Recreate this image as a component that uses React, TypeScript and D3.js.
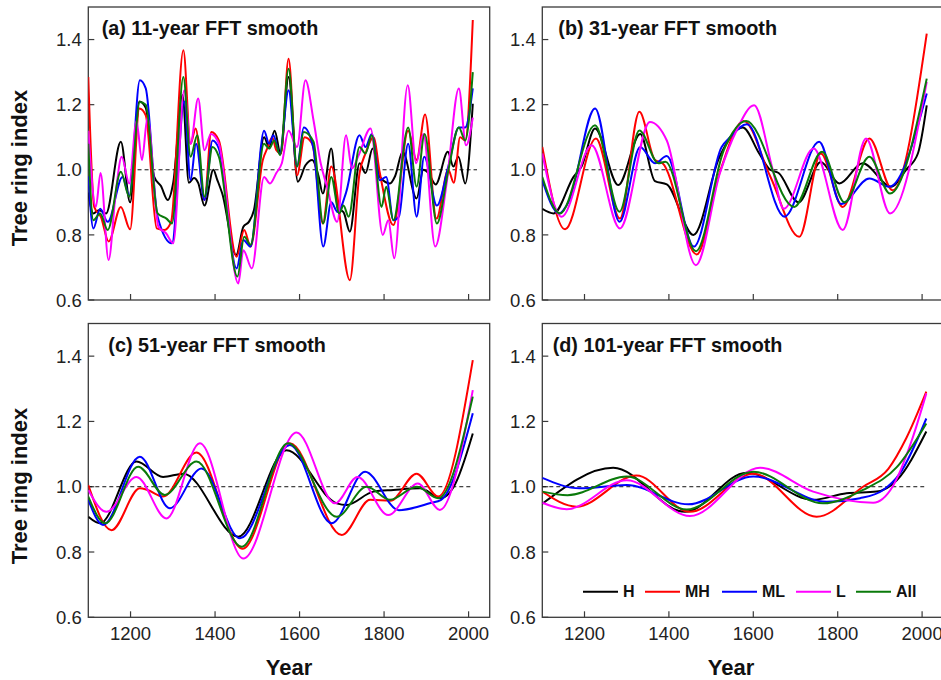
import React from 'react';
import * as d3 from 'd3';

type Pt = [number, number];

// ---------- Panel (a) 11-year FFT smooth ----------
const aH: Pt[] = [[1100,0.93],[1112,0.866],[1125,0.876],[1142,0.866],[1177,1.086],[1199,0.90],[1221,1.21],[1236,1.19],[1256,0.978],[1272,0.95],[1288,0.907],[1301,0.96],[1323,1.23],[1338,0.96],[1350,0.975],[1360,0.96],[1375,0.89],[1396,1.0],[1405,0.97],[1417,0.927],[1450,0.738],[1467,0.825],[1480,0.84],[1492,0.876],[1516,1.10],[1528,1.07],[1541,1.12],[1555,1.05],[1574,1.285],[1596,0.963],[1614,1.014],[1630,1.03],[1645,0.98],[1655,0.927],[1675,1.065],[1691,0.88],[1704,0.87],[1719,0.81],[1742,1.02],[1756,0.99],[1773,1.065],[1790,0.978],[1814,0.958],[1826,0.98],[1844,1.055],[1877,0.912],[1893,1.0],[1905,0.99],[1922,0.955],[1951,1.055],[1964,1.01],[1976,1.04],[1992,0.958],[2010,1.203]];
const aMH: Pt[] = [[1100,1.285],[1114,0.886],[1130,0.855],[1148,0.78],[1177,0.886],[1199,0.817],[1221,1.188],[1236,1.167],[1262,0.82],[1280,0.815],[1296,0.84],[1325,1.367],[1342,1.08],[1354,1.127],[1375,0.907],[1391,1.116],[1409,1.09],[1451,0.733],[1469,0.815],[1484,0.764],[1513,1.03],[1525,1.07],[1535,1.10],[1545,1.06],[1556,1.05],[1574,1.341],[1594,0.983],[1612,1.10],[1630,1.08],[1655,0.835],[1675,1.01],[1719,0.661],[1742,0.99],[1756,1.05],[1775,1.10],[1790,0.99],[1822,0.83],[1857,1.12],[1877,1.03],[1897,1.17],[1924,0.85],[1952,1.0],[1965,0.96],[1980,1.1],[1992,1.09],[2010,1.46]];
const aML: Pt[] = [[1100,0.98],[1112,0.82],[1128,0.88],[1146,0.84],[1181,0.978],[1197,0.92],[1222,1.275],[1236,1.25],[1264,0.856],[1298,0.774],[1327,1.21],[1342,0.968],[1355,1.08],[1375,0.907],[1394,1.09],[1409,1.065],[1451,0.697],[1467,0.784],[1484,0.764],[1516,1.12],[1528,1.08],[1538,1.106],[1553,1.05],[1574,1.244],[1594,1.01],[1610,1.13],[1633,1.065],[1656,0.764],[1675,0.90],[1690,0.87],[1710,0.93],[1742,1.106],[1756,1.07],[1771,1.11],[1790,0.968],[1805,0.978],[1822,0.845],[1835,0.856],[1857,1.08],[1877,0.856],[1895,1.04],[1925,0.89],[1952,1.01],[1977,1.13],[1992,1.13],[2010,1.25]];
const aL: Pt[] = [[1100,1.12],[1118,0.886],[1129,0.99],[1148,0.723],[1165,0.93],[1179,1.04],[1197,0.958],[1214,1.15],[1227,1.03],[1240,1.16],[1266,0.825],[1284,0.805],[1301,0.774],[1327,1.244],[1342,1.08],[1360,1.219],[1375,1.06],[1390,1.11],[1409,1.08],[1455,0.651],[1467,0.753],[1487,0.697],[1516,0.978],[1530,0.958],[1545,0.99],[1558,1.02],[1574,1.12],[1594,1.07],[1614,1.275],[1633,1.152],[1650,1.02],[1665,0.948],[1689,0.84],[1710,1.106],[1724,1.004],[1740,1.045],[1768,1.127],[1797,0.80],[1810,0.845],[1824,0.728],[1856,1.26],[1876,1.02],[1893,1.11],[1921,0.764],[1948,0.958],[1977,1.25],[1994,1.075],[2010,1.16]];
const aAll: Pt[] = [[1100,1.08],[1112,0.845],[1128,0.866],[1146,0.815],[1177,0.994],[1197,0.917],[1222,1.208],[1236,1.20],[1264,0.866],[1285,0.85],[1298,0.835],[1325,1.285],[1342,1.04],[1358,1.106],[1375,0.917],[1394,1.07],[1409,1.04],[1453,0.672],[1469,0.794],[1484,0.77],[1516,1.08],[1528,1.065],[1540,1.09],[1554,1.045],[1574,1.31],[1594,1.01],[1610,1.116],[1633,1.086],[1656,0.835],[1675,0.978],[1694,0.866],[1704,0.89],[1716,0.856],[1742,1.07],[1756,1.05],[1771,1.106],[1794,0.886],[1805,0.948],[1822,0.845],[1857,1.13],[1877,0.948],[1896,1.11],[1925,0.835],[1952,0.998],[1977,1.13],[1992,1.09],[2010,1.30]];

// ---------- Panel (b) 31-year FFT smooth ----------
const bH: Pt[] = [[1100,0.88],[1127,0.866],[1174,0.978],[1193,1.01],[1225,1.127],[1280,0.953],[1332,1.11],[1367,0.965],[1395,0.955],[1458,0.80],[1520,1.04],[1575,1.13],[1614,1.05],[1640,1.0],[1660,0.99],[1707,0.90],[1760,1.024],[1804,0.958],[1859,1.02],[1926,0.948],[1962,1.0],[1990,1.05],[2011,1.198]];
const bMH: Pt[] = [[1100,1.07],[1154,0.817],[1227,1.096],[1284,0.85],[1330,1.178],[1367,1.03],[1385,1.02],[1466,0.74],[1520,0.99],[1577,1.15],[1640,0.98],[1709,0.794],[1760,1.05],[1812,0.886],[1875,1.096],[1930,0.937],[2011,1.418]];
const bML: Pt[] = [[1100,0.968],[1140,0.866],[1162,0.90],[1225,1.188],[1283,0.84],[1332,1.07],[1367,1.02],[1395,1.042],[1459,0.764],[1525,1.07],[1545,1.10],[1585,1.14],[1674,0.856],[1756,1.086],[1808,0.895],[1875,0.973],[1922,0.948],[2011,1.234]];
const bL: Pt[] = [[1100,1.05],[1146,0.856],[1217,1.075],[1284,0.82],[1355,1.147],[1395,1.09],[1464,0.707],[1521,0.99],[1560,1.12],[1602,1.198],[1646,1.0],[1672,0.88],[1743,1.065],[1812,0.815],[1867,1.096],[1924,0.866],[2011,1.27]];
const bAll: Pt[] = [[1100,0.978],[1142,0.866],[1225,1.137],[1283,0.871],[1330,1.121],[1375,1.02],[1392,1.025],[1464,0.75],[1530,1.06],[1583,1.15],[1697,0.886],[1763,1.055],[1816,0.90],[1875,1.04],[1924,0.927],[2011,1.28]];

// ---------- Panel (c) 51-year FFT smooth ----------
const cH: Pt[] = [[1100,0.908],[1128,0.888],[1214,1.077],[1277,1.03],[1325,1.04],[1455,0.847],[1569,1.112],[1688,0.949],[1711,0.944],[1775,0.985],[1822,0.99],[1885,0.995],[1935,0.965],[1965,1.0],[2010,1.163]];
const cMH: Pt[] = [[1100,1.005],[1155,0.867],[1222,0.995],[1240,0.99],[1277,0.97],[1356,1.105],[1465,0.81],[1577,1.133],[1700,0.852],[1767,0.96],[1815,0.957],[1877,1.04],[1928,0.97],[2010,1.388]];
const cML: Pt[] = [[1100,0.96],[1135,0.883],[1222,1.092],[1293,0.934],[1368,1.056],[1459,0.842],[1577,1.128],[1676,0.888],[1755,1.046],[1835,0.928],[1910,0.95],[1935,0.96],[2010,1.225]];
const cL: Pt[] = [[1100,0.99],[1143,0.923],[1214,1.03],[1285,0.903],[1364,1.133],[1467,0.78],[1593,1.166],[1684,0.949],[1737,1.03],[1810,0.913],[1880,1.01],[1932,0.929],[2010,1.296]];
const cAll: Pt[] = [[1100,0.97],[1140,0.888],[1218,1.061],[1281,0.975],[1356,1.077],[1463,0.816],[1573,1.133],[1688,0.908],[1759,1.0],[1814,0.96],[1877,1.0],[1928,0.965],[2010,1.276]];

// ---------- Panel (d) 101-year FFT smooth ----------
const dH: Pt[] = [[1100,0.948],[1268,1.058],[1438,0.923],[1584,1.043],[1742,0.96],[1821,0.98],[1892,0.985],[1940,1.02],[2010,1.169]];
const dMH: Pt[] = [[1100,0.985],[1181,0.939],[1323,1.034],[1450,0.923],[1600,1.04],[1750,0.908],[1860,1.0],[1920,1.055],[1963,1.15],[2010,1.291]];
const dML: Pt[] = [[1100,1.027],[1189,0.995],[1300,1.005],[1446,0.946],[1600,1.031],[1774,0.954],[1853,0.965],[1908,0.99],[1947,1.04],[2010,1.209]];
const dL: Pt[] = [[1100,0.951],[1158,0.931],[1300,1.02],[1450,0.91],[1616,1.058],[1742,0.985],[1884,0.951],[1930,1.0],[1975,1.14],[2010,1.286]];
const dAll: Pt[] = [[1100,0.985],[1160,0.974],[1300,1.031],[1442,0.93],[1600,1.046],[1765,0.949],[1860,0.99],[1940,1.06],[2010,1.194]];

const seriesNames = ['H', 'MH', 'ML', 'L', 'All'];
const seriesColors = ['#000000', '#ff0000', '#0000ff', '#ff00ff', '#0a7a0a'];
const panelTitles = ['(a) 11-year FFT smooth', '(b) 31-year FFT smooth', '(c) 51-year FFT smooth', '(d) 101-year FFT smooth'];
const panelData = [
  [aH, aMH, aML, aL, aAll],
  [bH, bMH, bML, bL, bAll],
  [cH, cMH, cML, cL, cAll],
  [dH, dMH, dML, dL, dAll],
];
const yTicks = [0.6, 0.8, 1.0, 1.2, 1.4];
const xTicks = [1200, 1400, 1600, 1800, 2000];
const refLine = [[1200, 2020], [1200, 2007], [1100, 2010], [1100, 2005]];

const FONT = 'Liberation Sans, Arial, Helvetica, sans-serif';

const layout = [
  { x0: 88.3, x1: 489.7, y0: 7, y1: 300, tx: 101.7, ty: 35, xLabels: false, yTitle: true, yTitleY: 168, legend: false, yearX: 289 },
  { x0: 542.3, x1: 943.2, y0: 7, y1: 300, tx: 558.3, ty: 35, xLabels: false, yTitle: false, yTitleY: 0, legend: false, yearX: 0 },
  { x0: 88.3, x1: 489.7, y0: 323.5, y1: 617.3, tx: 108.3, ty: 352, xLabels: true, yTitle: true, yTitleY: 486, legend: false, yearX: 289 },
  { x0: 542.3, x1: 943.2, y0: 323.5, y1: 617.3, tx: 552.7, ty: 352, xLabels: true, yTitle: false, yTitleY: 0, legend: true, yearX: 731 },
];

const legendLayout = [583, 645, 722, 796, 856];

function Panel({ idx }: { idx: number }) {
  const L = layout[idx];
  const x = d3.scaleLinear().domain([1100, 2050]).range([L.x0, L.x1]);
  const y = d3.scaleLinear().domain([0.6, 1.5]).range([L.y1, L.y0]);
  const line = d3.line<Pt>().x(d => x(d[0])).y(d => y(d[1])).curve(d3.curveMonotoneX);
  const clipId = `clip-${idx}`;
  const axisColor = '#3a3a3a';
  return (
    <g>
      <defs>
        <clipPath id={clipId}>
          <rect x={L.x0} y={L.y0} width={L.x1 - L.x0} height={L.y1 - L.y0} />
        </clipPath>
      </defs>
      <rect x={L.x0} y={L.y0} width={L.x1 - L.x0} height={L.y1 - L.y0} fill="none" stroke={axisColor} strokeWidth={1.3} />
      {yTicks.map(t => (
        <g key={'y' + t}>
          <line x1={L.x0} x2={L.x0 + 6} y1={y(t)} y2={y(t)} stroke={axisColor} strokeWidth={1.2} />
          <text x={L.x0 - 6.5} y={y(t)} dy="0.36em" textAnchor="end" fontFamily={FONT} fontSize={18.5} fill="#222">{t.toFixed(1)}</text>
        </g>
      ))}
      {xTicks.map(t => (
        <g key={'x' + t}>
          <line x1={x(t)} x2={x(t)} y1={L.y1} y2={L.y1 - 6} stroke={axisColor} strokeWidth={1.2} />
          {L.xLabels && (
            <text x={x(t)} y={L.y1 + 22.7} textAnchor="middle" fontFamily={FONT} fontSize={18.5} fill="#222">{t}</text>
          )}
        </g>
      ))}
      <line x1={x(refLine[idx][0])} x2={x(refLine[idx][1])} y1={y(1)} y2={y(1)} stroke="#111" strokeWidth={1} strokeDasharray="4,3" />
      <g clipPath={`url(#${clipId})`}>
        {panelData[idx].map((s, i) => (
          <path key={i} d={line(s) || ''} fill="none" stroke={seriesColors[i]} strokeWidth={2} strokeLinejoin="round" />
        ))}
      </g>
      <text x={L.tx} y={L.ty} fontFamily={FONT} fontWeight="bold" fontSize={19.8} fill="#111">{panelTitles[idx]}</text>
      {L.yTitle && (
        <text transform={`translate(27,${L.yTitleY}) rotate(-90)`} textAnchor="middle" fontFamily={FONT} fontWeight="bold" fontSize={22} fill="#111">Tree ring index</text>
      )}
      {L.xLabels && (
        <text x={L.yearX} y={675} textAnchor="middle" fontFamily={FONT} fontWeight="bold" fontSize={22} fill="#111">Year</text>
      )}
      {L.legend && seriesNames.map((n, i) => (
        <g key={n}>
          <line x1={legendLayout[i]} x2={legendLayout[i] + 35} y1={591.7} y2={591.7} stroke={seriesColors[i]} strokeWidth={2} />
          <text x={legendLayout[i] + 40} y={591.7} dy="0.36em" fontFamily={FONT} fontWeight="bold" fontSize={16} fill="#111">{n}</text>
        </g>
      ))}
    </g>
  );
}

export default function App() {
  return (
    <svg width={941} height={680} style={{ position: 'absolute', left: 0, top: 0, background: '#fff' }}>
      <rect x={0} y={0} width={941} height={680} fill="#fff" />
      {[0, 1, 2, 3].map(i => <Panel key={i} idx={i} />)}
    </svg>
  );
}
